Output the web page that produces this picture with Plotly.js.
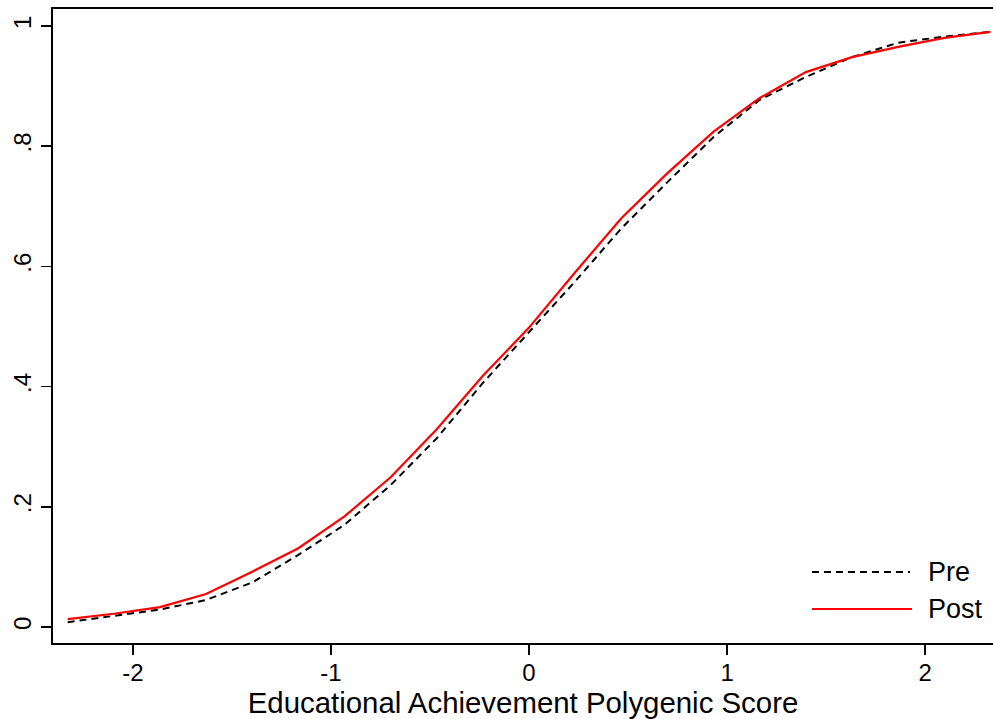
<!DOCTYPE html>
<html>
<head>
<meta charset="utf-8">
<script src="https://cdn.plot.ly/plotly-3.0.1.min.js"></script>
<style>html,body{margin:0;padding:0;background:#fff;}#chart{width:994px;height:719px;}</style>
</head>
<body>
<div id="chart"></div>
<script>
const scoreX = [-2.33, -2.097, -1.864, -1.631, -1.398, -1.165, -0.932, -0.699, -0.466, -0.233, 0, 0.233, 0.466, 0.699, 0.932, 1.165, 1.398, 1.631, 1.864, 2.097, 2.33];
const preY  = [0.008, 0.018, 0.029, 0.045, 0.074, 0.12, 0.17, 0.236, 0.314, 0.406, 0.49, 0.575, 0.663, 0.74, 0.815, 0.877, 0.915, 0.948, 0.972, 0.982, 0.99];
const postY = [0.013, 0.022, 0.033, 0.055, 0.092, 0.131, 0.184, 0.249, 0.329, 0.418, 0.498, 0.59, 0.68, 0.755, 0.824, 0.88, 0.923, 0.948, 0.965, 0.98, 0.99];
const seriesNames = ["Pre", "Post"];
const xTickVals = [-2, -1, 0, 1, 2];
const xTickText = ["-2", "-1", "0", "1", "2"];
const yTickVals = [0, 0.2, 0.4, 0.6, 0.8, 1];
const yTickText = ["0", ".2", ".4", ".6", ".8", "1"];
const xTitle = "Educational Achievement Polygenic Score";

const FONT = "Liberation Sans, Arial, Helvetica, sans-serif";

const traces = [
  {x: scoreX, y: preY, name: seriesNames[0], mode: "lines", type: "scatter",
   line: {color: "#000000", width: 2, dash: "7px,5px"}, showlegend: false},
  {x: scoreX, y: postY, name: seriesNames[1], mode: "lines", type: "scatter",
   line: {color: "#ff0000", width: 2.2}, showlegend: false}
];

// manual legend (paper coordinates)
const shapes = [
  {type: "line", xref: "paper", yref: "paper", x0: 0.8074, x1: 0.9117, y0: 0.112, y1: 0.112,
   line: {color: "#000000", width: 2, dash: "7px,5px"}},
  {type: "line", xref: "paper", yref: "paper", x0: 0.8074, x1: 0.9138, y0: 0.0536, y1: 0.0536,
   line: {color: "#ff0000", width: 2.2}}
];
const annotations = [
  {xref: "paper", yref: "paper", x: 0.929, y: 0.112, xanchor: "left", yanchor: "middle",
   text: seriesNames[0], showarrow: false, font: {family: FONT, size: 27, color: "#000"}},
  {xref: "paper", yref: "paper", x: 0.929, y: 0.0536, xanchor: "left", yanchor: "middle",
   text: seriesNames[1], showarrow: false, font: {family: FONT, size: 27, color: "#000"}}
];

const layout = {
  width: 994, height: 719,
  margin: {l: 53, r: 1, t: 9, b: 76},
  paper_bgcolor: "#ffffff", plot_bgcolor: "#ffffff",
  font: {family: FONT, size: 24, color: "#000"},
  showlegend: false,
  xaxis: {
    range: [-2.404, 2.343],
    tickmode: "array", tickvals: xTickVals, ticktext: xTickText,
    ticks: "outside", ticklen: 10, tickwidth: 1.5, tickcolor: "#000",
    ticklabelstandoff: -3,
    showline: true, linecolor: "#000", linewidth: 2, mirror: true,
    showgrid: false, zeroline: false,
    tickfont: {family: FONT, size: 24},
    title: {text: xTitle, font: {family: FONT, size: 29.4}, standoff: 7}
  },
  yaxis: {
    range: [-0.0266, 1.028],
    tickmode: "array", tickvals: yTickVals, ticktext: yTickText,
    ticks: "outside", ticklen: 10, tickwidth: 1.5, tickcolor: "#000",
    showline: true, linecolor: "#000", linewidth: 2,
    showgrid: false, zeroline: false,
    tickangle: -90,
    tickfont: {family: FONT, size: 24}
  },
  shapes: shapes,
  annotations: annotations
};

Plotly.newPlot("chart", traces, layout, {displayModeBar: false, staticPlot: true});
</script>
</body>
</html>
